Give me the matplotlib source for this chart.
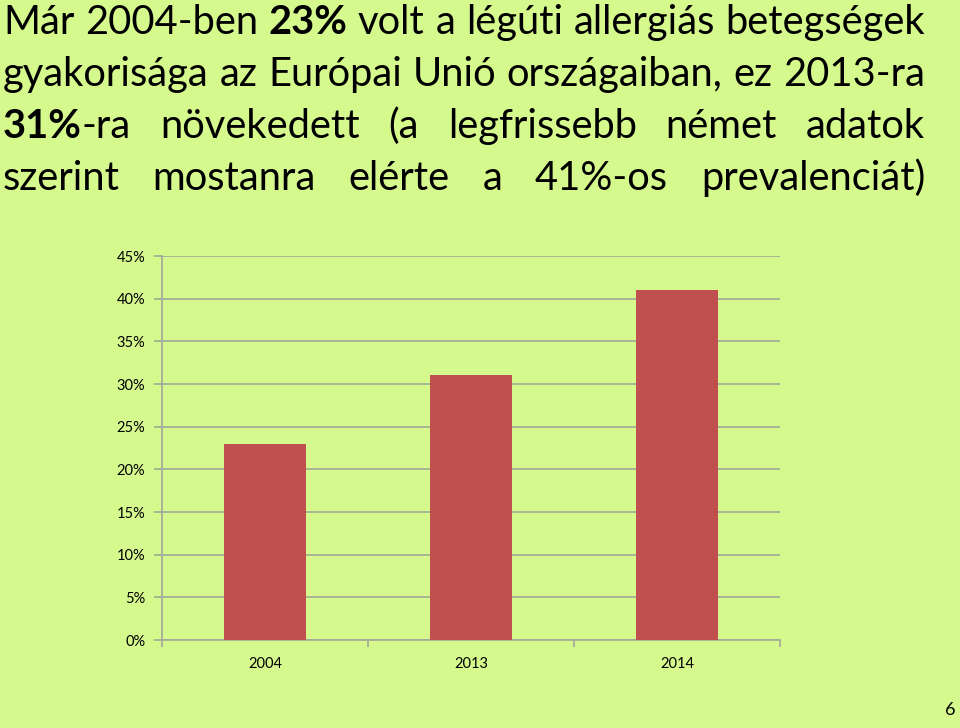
import matplotlib
matplotlib.use('Agg')
import matplotlib.pyplot as plt
from matplotlib.ticker import FixedLocator, FuncFormatter
from matplotlib.transforms import IdentityTransform

# adatok
years = ['2004', '2013', '2014']
prevalence = [23, 31, 41]
y_ticks = [0, 5, 10, 15, 20, 25, 30, 35, 40, 45]

# cím sorai: szavak, szavanként (szöveg, félkövér) darabok
title_lines = [
    [[('Már', False)], [('2004-ben', False)], [('23%', True)], [('volt', False)], [('a', False)],
     [('légúti', False)], [('allergiás', False)], [('betegségek', False)]],
    [[('gyakorisága', False)], [('az', False)], [('Európai', False)], [('Unió', False)],
     [('országaiban,', False)], [('ez', False)], [('2013-ra', False)]],
    [[('31%', True), ('-ra', False)], [('növekedett', False)], [('(a', False)],
     [('legfrissebb', False)], [('német', False)], [('adatok', False)]],
    [[('szerint', False)], [('mostanra', False)], [('elérte', False)], [('a', False)],
     [('41%-os', False)], [('prevalenciát)', False)]],
]

bg = '#D6F98E'
bar_color = '#C0504D'
grid_color = '#A3A89A'
font = 'Lato'

W, H = 960, 728
fig = plt.figure(figsize=(W / 100, H / 100), dpi=100, facecolor=bg)

ax = fig.add_axes([162 / W, (H - 640) / H, (780 - 162) / W, (640 - 256) / H])
ax.set_facecolor(bg)
ax.bar(range(len(years)), prevalence, width=0.4, color=bar_color, zorder=3)
ax.set_xlim(-0.5, len(years) - 0.5)
ax.set_ylim(0, 45)
ax.yaxis.set_major_locator(FixedLocator(y_ticks))
ax.yaxis.set_major_formatter(FuncFormatter(lambda v, p: f'{v:.0f}%'))
ax.grid(axis='y', color=grid_color, linewidth=1.2, zorder=0)
ax.set_xticks(range(len(years)))
ax.set_xticklabels(years)
ax.set_xticks([i - 0.5 for i in range(len(years) + 1)], minor=True)
ax.tick_params(axis='x', which='major', length=0, pad=12, labelsize=10.5)
ax.tick_params(axis='x', which='minor', length=5, width=1.2, color=grid_color, direction='out')
ax.tick_params(axis='y', length=6, width=1.2, color=grid_color, direction='out', pad=6, labelsize=10.5)
for lab in ax.get_xticklabels() + ax.get_yticklabels():
    lab.set_fontfamily(font)
for s in ['top', 'right']:
    ax.spines[s].set_visible(False)
for s in ['left', 'bottom']:
    ax.spines[s].set_color(grid_color)
    ax.spines[s].set_linewidth(1.2)

# sorkizárt cím
renderer = fig.canvas.get_renderer()
left_px, right_px = 3, 925
baselines = [34, 86, 138, 190]


def make_line(words, size):
    items = []
    for word in words:
        segs = []
        for txt, bold in word:
            t = fig.text(0, 0, txt, transform=IdentityTransform(), fontsize=size,
                         fontfamily=font, fontweight='bold' if bold else 'normal',
                         va='baseline', ha='left', color='black')
            segs.append((t, t.get_window_extent(renderer).width))
        items.append(segs)
    return items


def text_w(s, size):
    t = fig.text(0, 0, s, fontsize=size, fontfamily=font)
    w = t.get_window_extent(renderer).width
    t.remove()
    return w


size = 27
space_w = text_w('a a', size) - text_w('aa', size)
max_nat = 0
for words in title_lines:
    items = make_line(words, size)
    nat = sum(w for segs in items for _, w in segs) + space_w * (len(items) - 1)
    max_nat = max(max_nat, nat)
    for segs in items:
        for t, _ in segs:
            t.remove()
# a legszorosabb sor pontosan kitölti a szélességet
size = size * (right_px - left_px) / max_nat

for words, base in zip(title_lines, baselines):
    items = make_line(words, size)
    total = sum(w for segs in items for _, w in segs)
    gap = (right_px - left_px - total) / (len(items) - 1)
    x = left_px
    for segs in items:
        for t, w in segs:
            t.set_position((x, H - base))
            x += w
        x += gap

fig.text(950 / W, 10 / H, '6', fontsize=13, fontfamily=font, ha='center', va='bottom')

fig.savefig('out.png', dpi=100, facecolor=bg)
